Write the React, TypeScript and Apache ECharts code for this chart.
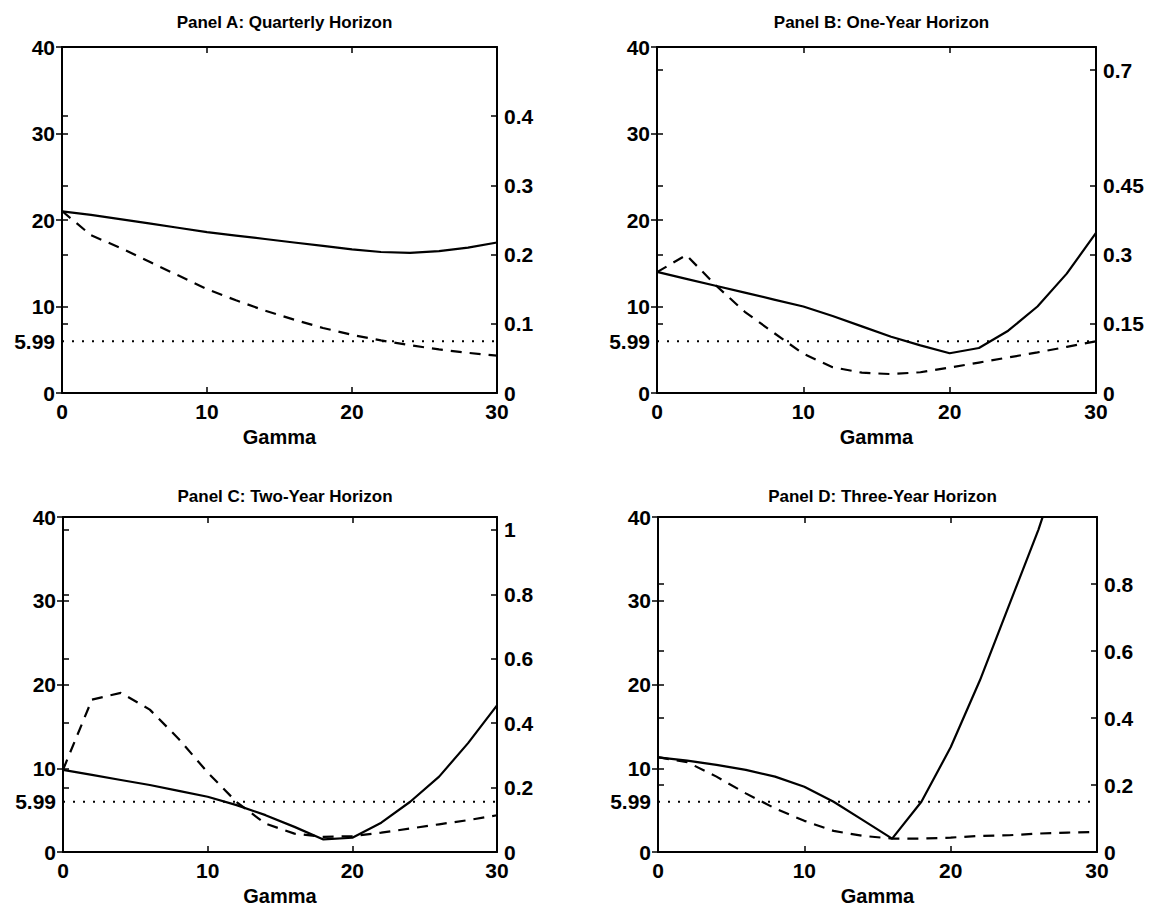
import React, { useEffect, useRef } from "react";
import * as echarts from "echarts";

const gamma = [0, 2, 4, 6, 8, 10, 12, 14, 16, 18, 20, 22, 24, 26, 28, 30];

const titles = [
  "Panel A: Quarterly Horizon",
  "Panel B: One-Year Horizon",
  "Panel C: Two-Year Horizon",
  "Panel D: Three-Year Horizon",
];

// solid line: left axis (0-40)
const solidA = [21.0, 20.6, 20.1, 19.6, 19.1, 18.6, 18.2, 17.8, 17.4, 17.0, 16.6, 16.3, 16.2, 16.4, 16.8, 17.4];
const solidB = [14.0, 13.2, 12.4, 11.6, 10.8, 10.0, 8.9, 7.7, 6.5, 5.5, 4.6, 5.2, 7.2, 10.0, 13.8, 18.5];
const solidC = [9.8, 9.2, 8.6, 8.0, 7.3, 6.6, 5.6, 4.4, 3.0, 1.5, 1.7, 3.5, 6.0, 9.0, 13.0, 17.5];
const solidD = [11.3, 10.9, 10.4, 9.8, 9.0, 7.8, 6.0, 3.8, 1.6, 6.0, 12.5, 20.5, 29.5, 38.5, 49, 60];

// dashed line: right axis
const dashedA = [0.263, 0.228, 0.21, 0.19, 0.17, 0.15, 0.134, 0.119, 0.106, 0.094, 0.084, 0.076, 0.069, 0.063, 0.058, 0.054];
const dashedB = [0.262, 0.299, 0.234, 0.176, 0.13, 0.085, 0.056, 0.044, 0.041, 0.045, 0.055, 0.066, 0.077, 0.088, 0.1, 0.112];
const dashedC = [0.255, 0.473, 0.494, 0.442, 0.351, 0.247, 0.155, 0.088, 0.057, 0.047, 0.049, 0.06, 0.073, 0.086, 0.099, 0.114];
const dashedD = [0.283, 0.268, 0.225, 0.175, 0.13, 0.093, 0.063, 0.048, 0.04, 0.04, 0.043, 0.048, 0.05, 0.055, 0.058, 0.06];

const criticalValue = 5.99;
const leftLabels = [0, 5.99, 10, 20, 30, 40];
const leftTicks = [0, 10, 20, 30, 40];

const rightMaxes = [0.5, 0.75, 1.04, 1.0];
const rightLabelsA = [0, 0.1, 0.2, 0.3, 0.4];
const rightLabelsB = [0, 0.15, 0.3, 0.45, 0.7];
const rightLabelsC = [0, 0.2, 0.4, 0.6, 0.8, 1];
const rightLabelsD = [0, 0.2, 0.4, 0.6, 0.8];

const solids = [solidA, solidB, solidC, solidD];
const dashes = [dashedA, dashedB, dashedC, dashedD];
const rightLabels = [rightLabelsA, rightLabelsB, rightLabelsC, rightLabelsD];

const grids = [
  { left: 62, top: 47, width: 435, height: 346 },
  { left: 657, top: 47, width: 439, height: 346 },
  { left: 63, top: 517, width: 434, height: 335 },
  { left: 658, top: 517, width: 439, height: 335 },
];

const FONT = "Liberation Sans";
const BLACK = "#000";

function buildOption() {
  const xAxis: any[] = [];
  const yAxis: any[] = [];
  const series: any[] = [];
  const title: any[] = [];
  grids.forEach((g, p) => {
    title.push({
      text: titles[p],
      left: g.left + g.width / 2,
      top: p < 2 ? 9 : 483,
      textAlign: "center",
      textStyle: { fontFamily: FONT, fontWeight: "bold", fontSize: 17, color: BLACK },
    });
    const lineStyle = { color: BLACK, width: 2 };
    const tickStyle = { color: BLACK, width: 1.5 };
    xAxis.push({
      type: "value",
      gridIndex: p,
      min: 0,
      max: 30,
      interval: 10,
      position: "bottom",
      name: "Gamma",
      nameLocation: "middle",
      nameGap: 34,
      nameTextStyle: { fontFamily: FONT, fontWeight: "bold", fontSize: 20, color: BLACK },
      axisLine: { show: true, onZero: false, lineStyle },
      axisTick: { show: true, inside: true, length: 6, lineStyle: tickStyle },
      axisLabel: { fontFamily: FONT, fontWeight: "bold", fontSize: 21, color: BLACK, margin: 8 },
      splitLine: { show: false },
    });
    xAxis.push({
      type: "value",
      gridIndex: p,
      min: 0,
      max: 30,
      interval: 10,
      position: "top",
      axisLine: { show: true, onZero: false, lineStyle },
      axisTick: { show: true, inside: true, length: 6, lineStyle: tickStyle },
      axisLabel: { show: false },
      splitLine: { show: false },
    });
    const rl = rightLabels[p];
    const fmt = (v: number) => String(Math.round(v * 1000) / 1000);
    yAxis.push({
      type: "value",
      gridIndex: p,
      min: 0,
      max: 40,
      position: "left",
      axisLine: { show: true, onZero: false, lineStyle },
      axisTick: { show: true, inside: true, length: 6, customValues: leftTicks, lineStyle: tickStyle },
      axisLabel: { customValues: leftLabels, formatter: fmt, fontFamily: FONT, fontWeight: "bold", fontSize: 21, color: BLACK, margin: 7 },
      splitLine: { show: false },
    });
    yAxis.push({
      type: "value",
      gridIndex: p,
      min: 0,
      max: rightMaxes[p],
      position: "right",
      axisLine: { show: true, onZero: false, lineStyle },
      axisTick: { show: true, inside: true, length: 6, customValues: rl, lineStyle: tickStyle },
      axisLabel: { customValues: rl, formatter: fmt, fontFamily: FONT, fontWeight: "bold", fontSize: 21, color: BLACK, margin: 7 },
      splitLine: { show: false },
    });
    yAxis.push({
      type: "value",
      gridIndex: p,
      min: 0,
      max: 40,
      position: "right",
      axisLine: { show: false },
      axisTick: { show: true, inside: true, length: 6, customValues: leftTicks, lineStyle: tickStyle },
      axisLabel: { show: false },
      splitLine: { show: false },
    });
    yAxis.push({
      type: "value",
      gridIndex: p,
      min: 0,
      max: rightMaxes[p],
      position: "left",
      axisLine: { show: false },
      axisTick: { show: true, inside: true, length: 6, customValues: rl, lineStyle: tickStyle },
      axisLabel: { show: false },
      splitLine: { show: false },
    });

    series.push({
      type: "line",
      xAxisIndex: 2 * p,
      yAxisIndex: 4 * p,
      data: gamma.map((x, i) => [x, solids[p][i]]),
      showSymbol: false,
      lineStyle: { color: BLACK, width: 2.2 },
      clip: true,
    });
    series.push({
      type: "line",
      xAxisIndex: 2 * p,
      yAxisIndex: 4 * p + 1,
      data: gamma.map((x, i) => [x, dashes[p][i]]),
      showSymbol: false,
      lineStyle: { color: BLACK, width: 2.2, type: [11, 8] },
      clip: true,
    });
    series.push({
      type: "line",
      xAxisIndex: 2 * p,
      yAxisIndex: 4 * p,
      data: [
        [gamma[0], criticalValue],
        [gamma[gamma.length - 1], criticalValue],
      ],
      showSymbol: false,
      lineStyle: { color: BLACK, width: 2, type: [2, 8] },
    });
  });

  return {
    animation: false,
    backgroundColor: "#fff",
    title,
    grid: grids.map((g) => ({ ...g, containLabel: false })),
    xAxis,
    yAxis,
    series,
  };
}

export default function App() {
  const ref = useRef<HTMLDivElement>(null);
  useEffect(() => {
    if (!ref.current) return;
    const chart = echarts.init(ref.current, null, { renderer: "svg" });
    chart.setOption(buildOption());
    return () => chart.dispose();
  }, []);
  return (
    <div
      ref={ref}
      style={{ position: "fixed", left: 0, top: 0, width: 1154, height: 914, background: "#fff" }}
    />
  );
}
